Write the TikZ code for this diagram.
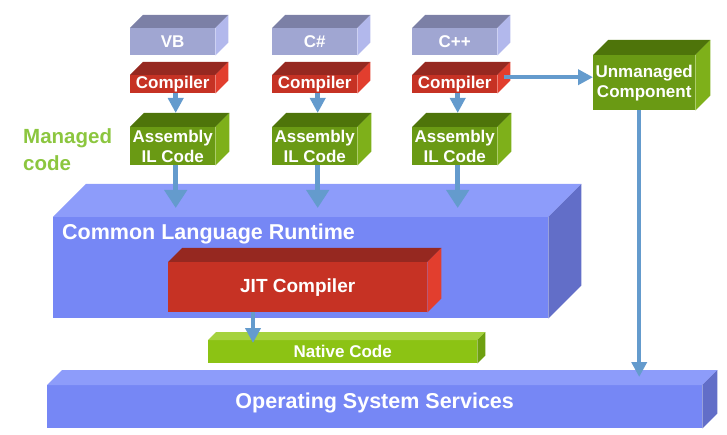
\documentclass[tikz,border=0pt]{standalone}
\usepackage{fontspec}
\setmainfont{Liberation Sans}
\usetikzlibrary{arrows.meta}
\definecolor{langfront}{RGB}{160,166,210}
\definecolor{langtop}{RGB}{124,128,166}
\definecolor{langside}{RGB}{178,184,236}
\definecolor{redfront}{RGB}{198,50,36}
\definecolor{redtop}{RGB}{150,40,32}
\definecolor{redside}{RGB}{226,62,46}
\definecolor{greenfront}{RGB}{106,154,20}
\definecolor{greentop}{RGB}{78,116,10}
\definecolor{greenside}{RGB}{126,176,26}
\definecolor{clrfront}{RGB}{118,135,245}
\definecolor{clrtop}{RGB}{141,156,250}
\definecolor{clrside}{RGB}{98,110,200}
\definecolor{natfront}{RGB}{140,195,20}
\definecolor{nattop}{RGB}{165,210,62}
\definecolor{natside}{RGB}{110,160,16}
\definecolor{arrowblue}{RGB}{100,155,205}
\definecolor{managed}{RGB}{140,198,63}
% top and side of a box: node, depth, top colour, side colour
\newcommand*\slab[4]{%
  \fill[#3] (#1.north west) -- ++(#2,-#2) -- ([shift={(#2,-#2)}]#1.north east) -- (#1.north east) -- cycle;
  \fill[#4] (#1.north east) -- ++(#2,-#2) -- ([shift={(#2,-#2)}]#1.south east) -- (#1.south east) -- cycle;
}
\tikzset{
  face/.style={rectangle, inner sep=0pt, anchor=north west, align=center,
    text=white, font=\bfseries\fontsize{17}{20}\selectfont},
  flow/.style={draw=arrowblue, line width=4.5pt, -{Triangle[length=15pt,width=15pt]}},
  bigflow/.style={flow, -{Triangle[length=18pt,width=22pt]}},
}
\begin{document}
\begin{tikzpicture}[x=1pt, y=-1pt]
\useasboundingbox (0,0) rectangle (727,435);

% languages, compilers and assemblies
\foreach \name/\lang/\x in {vb/VB/130, cs/C\#/272, cpp/C++/412} {
  \node[face, fill=langfront, minimum width=85, minimum height=27] (l\name) at (\x,28) {\lang};
  \slab{l\name}{13}{langtop}{langside}
  \node[face, fill=redfront, minimum width=85, minimum height=18] (c\name) at (\x,75) {Compiler};
  \slab{c\name}{13}{redtop}{redside}
  \node[face, fill=greenfront, minimum width=85, minimum height=38] (a\name) at (\x,127) {Assembly\\IL Code};
  \slab{a\name}{14}{greentop}{greenside}
  \draw[flow] ([xshift=3pt]c\name.south) -- ([xshift=3pt, yshift=14pt]a\name.north);
}

\node[anchor=north west, inner sep=0pt, align=left, text=managed,
  font=\bfseries\fontsize{20.5}{27}\selectfont] (mgd) at (23,128) {Managed\\code};

\node[face, fill=greenfront, minimum width=102, minimum height=55] (um) at (593,55) {Unmanaged\\Component};
\slab{um}{15}{greentop}{greenside}

% runtime
\node[face, fill=clrfront, minimum width=495, minimum height=101] (clr) at (53,217) {};
\slab{clr}{33}{clrtop}{clrside}
\node[anchor=base west, inner sep=0pt, text=white, font=\bfseries\fontsize{21.5}{24}\selectfont]
  (clrlabel) at (62,240) {Common Language Runtime};

\node[face, fill=redfront, minimum width=259, minimum height=50,
  font=\bfseries\fontsize{19}{22}\selectfont] (jit) at (168,262) {JIT Compiler};
\slab{jit}{14}{redtop}{redside}

\node[face, fill=natfront, minimum width=269, minimum height=23] (nat) at (208,340) {Native Code};
\slab{nat}{8}{nattop}{natside}

\node[face, fill=clrfront, minimum width=655, minimum height=43] (os) at (47,385) {};
\slab{os}{15}{clrtop}{clrside}
\node[anchor=base, inner sep=0pt, text=white, font=\bfseries\fontsize{21.5}{24}\selectfont]
  (oslabel) at ([yshift=-1.5pt]os.center) {Operating System Services};

% connectors
\foreach \name in {vb, cs, cpp}
  \draw[bigflow, shorten >=9pt] ([xshift=3pt]a\name.south) -- ([xshift=3pt]a\name.south |- clr.north);
\draw[flow] ([xshift=7pt, yshift=7pt]ccpp.east) coordinate (cout) -- (cout -| um.west);
\draw[flow, shorten >=8pt] ([xshift=-5pt]um.south) -- ([xshift=-5pt]um.south |- os.north);
\draw[flow, shorten >=-3pt] ([xshift=85pt]jit.south west) -- ([xshift=85pt]jit.south west |- nat.north);
\end{tikzpicture}
\end{document}
